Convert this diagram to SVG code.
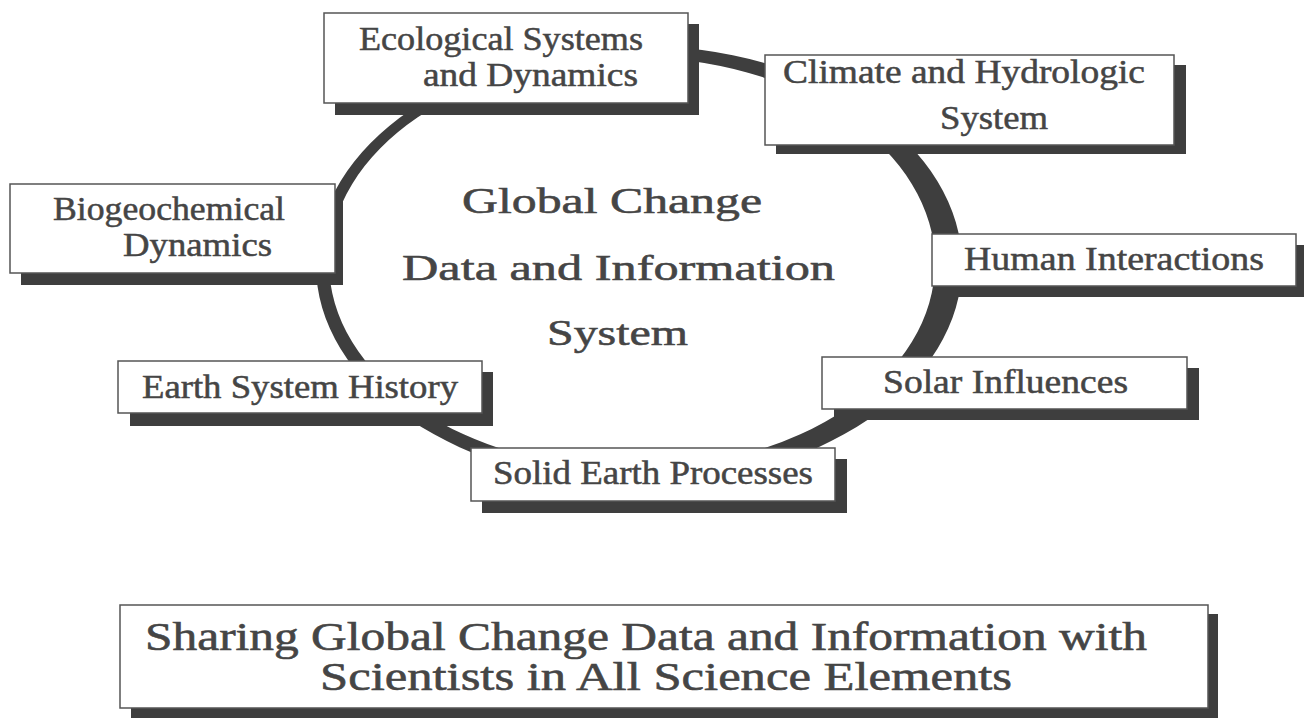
<svg xmlns="http://www.w3.org/2000/svg" width="1304" height="718" viewBox="0 0 1304 718">
  <style>
    .bg { fill: #ffffff; }
    .shadow { fill: #3e3e3e; }
    .box { fill: #ffffff; stroke: #555555; stroke-width: 1.5; }
    .ring { fill: #3e3e3e; fill-rule: evenodd; }
    .t { font-family: "Liberation Serif", "Times New Roman", serif; fill: #454545; stroke: #454545; stroke-width: 0.5; font-size: 33px; }
    .tc { font-family: "Liberation Serif", "Times New Roman", serif; fill: #454545; stroke: #454545; stroke-width: 0.55; font-size: 36px; }
    .tb { font-family: "Liberation Serif", "Times New Roman", serif; fill: #454545; stroke: #454545; stroke-width: 0.6; font-size: 41px; }
  </style>
  <rect class="bg" x="0" y="0" width="1304" height="718"/>

  <g id="connectors">
    <path class="ring" d="M316,265 A323,219 0 1,0 962,265 A323,219 0 1,0 316,265 Z M329,263 A303,206 0 1,1 935,263 A303,206 0 1,1 329,263 Z"/>
  </g>

  <g id="center">
    <text class="tc" x="462" y="213" textLength="300" lengthAdjust="spacingAndGlyphs">Global Change</text>
    <text class="tc" x="402" y="280" textLength="433" lengthAdjust="spacingAndGlyphs">Data and Information</text>
    <text class="tc" x="547" y="345" textLength="141" lengthAdjust="spacingAndGlyphs">System</text>
  </g>

  <g id="ecological">
    <rect class="shadow" x="335" y="24" width="364" height="91"/>
    <rect class="box" x="324" y="13" width="364" height="90"/>
    <text class="t" x="359" y="50" textLength="284" lengthAdjust="spacingAndGlyphs">Ecological Systems</text>
    <text class="t" x="423" y="86" textLength="215" lengthAdjust="spacingAndGlyphs">and Dynamics</text>
  </g>

  <g id="climate">
    <rect class="shadow" x="776" y="65" width="410" height="89"/>
    <rect class="box" x="765" y="55" width="409" height="90"/>
    <text class="t" x="783" y="83" textLength="362" lengthAdjust="spacingAndGlyphs">Climate and Hydrologic</text>
    <text class="t" x="940" y="129" textLength="108" lengthAdjust="spacingAndGlyphs">System</text>
  </g>

  <g id="biogeochemical">
    <rect class="shadow" x="21" y="195" width="322" height="90"/>
    <rect class="box" x="10" y="184" width="325" height="89"/>
    <text class="t" x="53" y="220" textLength="232" lengthAdjust="spacingAndGlyphs">Biogeochemical</text>
    <text class="t" x="123" y="256" textLength="149" lengthAdjust="spacingAndGlyphs">Dynamics</text>
  </g>

  <g id="human">
    <rect class="shadow" x="944" y="245" width="364" height="52"/>
    <rect class="box" x="932" y="234" width="364" height="52"/>
    <text class="t" x="964" y="270" textLength="300" lengthAdjust="spacingAndGlyphs">Human Interactions</text>
  </g>

  <g id="solar">
    <rect class="shadow" x="834" y="368" width="365" height="52"/>
    <rect class="box" x="822" y="357" width="365" height="52"/>
    <text class="t" x="883" y="393" textLength="245" lengthAdjust="spacingAndGlyphs">Solar Influences</text>
  </g>

  <g id="earth-history">
    <rect class="shadow" x="130" y="372" width="363" height="54"/>
    <rect class="box" x="118" y="361" width="364" height="52"/>
    <text class="t" x="142" y="398" textLength="316" lengthAdjust="spacingAndGlyphs">Earth System History</text>
  </g>

  <g id="solid-earth">
    <rect class="shadow" x="482" y="459" width="365" height="54"/>
    <rect class="box" x="471" y="448" width="364" height="53"/>
    <text class="t" x="493" y="484" textLength="320" lengthAdjust="spacingAndGlyphs">Solid Earth Processes</text>
  </g>

  <g id="sharing">
    <rect class="shadow" x="131" y="614" width="1087" height="104"/>
    <rect class="box" x="120" y="605" width="1088" height="103"/>
    <text class="tb" x="145" y="650" textLength="1002" lengthAdjust="spacingAndGlyphs">Sharing Global Change Data and Information with</text>
    <text class="tb" x="320" y="690" textLength="692" lengthAdjust="spacingAndGlyphs">Scientists in All Science Elements</text>
  </g>
</svg>
